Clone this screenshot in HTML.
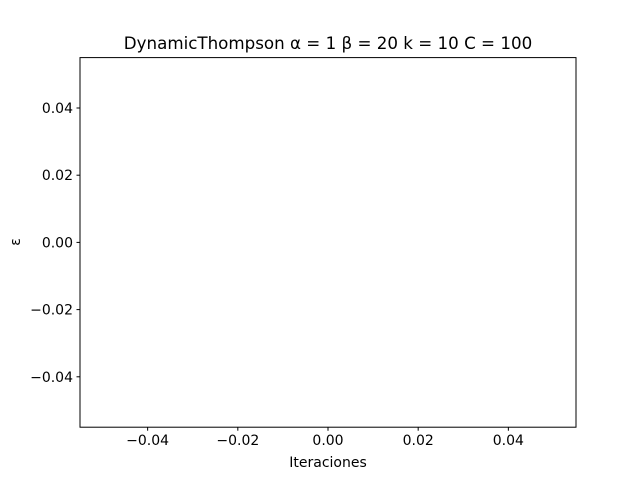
<!DOCTYPE html>
<html><head><meta charset="utf-8"><style>
html,body{margin:0;padding:0;background:#fff;}
svg{display:block;font-family:"DejaVu Sans","Liberation Sans",sans-serif;}
</style></head><body>
<svg id="chart" width="640" height="480" viewBox="0 0 640 480">
<rect x="0" y="0" width="640" height="480" fill="#fff"/>
<text x="328" y="49" text-anchor="middle" font-size="16.7" fill="#000">DynamicThompson α = 1 β = 20 k = 10 C = 100</text>
<g id="xticks"></g>
<g id="yticks"></g>
<rect x="80" y="57.6" width="496" height="369.6" fill="none" stroke="#000" stroke-width="1"/>
<text x="328" y="467" text-anchor="middle" font-size="14" fill="#000">Iteraciones</text>
<text x="20" y="242" text-anchor="middle" font-size="14" fill="#000" transform="rotate(-90 20 242)">ε</text>
</svg>
<script>
const xTickValues=[-0.04,-0.02,0,0.02,0.04];
const xTickLabels=["−0.04","−0.02","0.00","0.02","0.04"];
const yTickValues=[-0.04,-0.02,0,0.02,0.04];
const yTickLabels=["−0.04","−0.02","0.00","0.02","0.04"];
const xDomain=[-0.055,0.055];
const yDomain=[-0.055,0.055];
const L=80,R=576,T=57.6,B=427.2;
const sx=v=>L+(v-xDomain[0])/(xDomain[1]-xDomain[0])*(R-L);
const sy=v=>B-(v-yDomain[0])/(yDomain[1]-yDomain[0])*(B-T);
const NS="http://www.w3.org/2000/svg";
const xg=document.getElementById('xticks'),yg=document.getElementById('yticks');
xTickValues.forEach((v,i)=>{
  const x=sx(v);
  const l=document.createElementNS(NS,'line');
  l.setAttribute('x1',x);l.setAttribute('x2',x);l.setAttribute('y1',B);l.setAttribute('y2',B+3.5);
  l.setAttribute('stroke','#000');
  
  
  xg.appendChild(l);
  const t=document.createElementNS(NS,'text');
  t.setAttribute('x',x);t.setAttribute('y',B+18);t.setAttribute('text-anchor','middle');t.setAttribute('font-size','14');
  t.textContent=xTickLabels[i];
  
  
  xg.appendChild(t);
});
yTickValues.forEach((v,i)=>{
  const y=sy(v);
  const l=document.createElementNS(NS,'line');
  l.setAttribute('x1',L-3.5);l.setAttribute('x2',L);l.setAttribute('y1',y);l.setAttribute('y2',y);
  l.setAttribute('stroke','#000');
  
  
  yg.appendChild(l);
  const t=document.createElementNS(NS,'text');
  t.setAttribute('x',L-7);t.setAttribute('y',y+5);t.setAttribute('text-anchor','end');t.setAttribute('font-size','14');
  t.textContent=yTickLabels[i];
  
  
  yg.appendChild(t);
});
</script>
</body></html>
